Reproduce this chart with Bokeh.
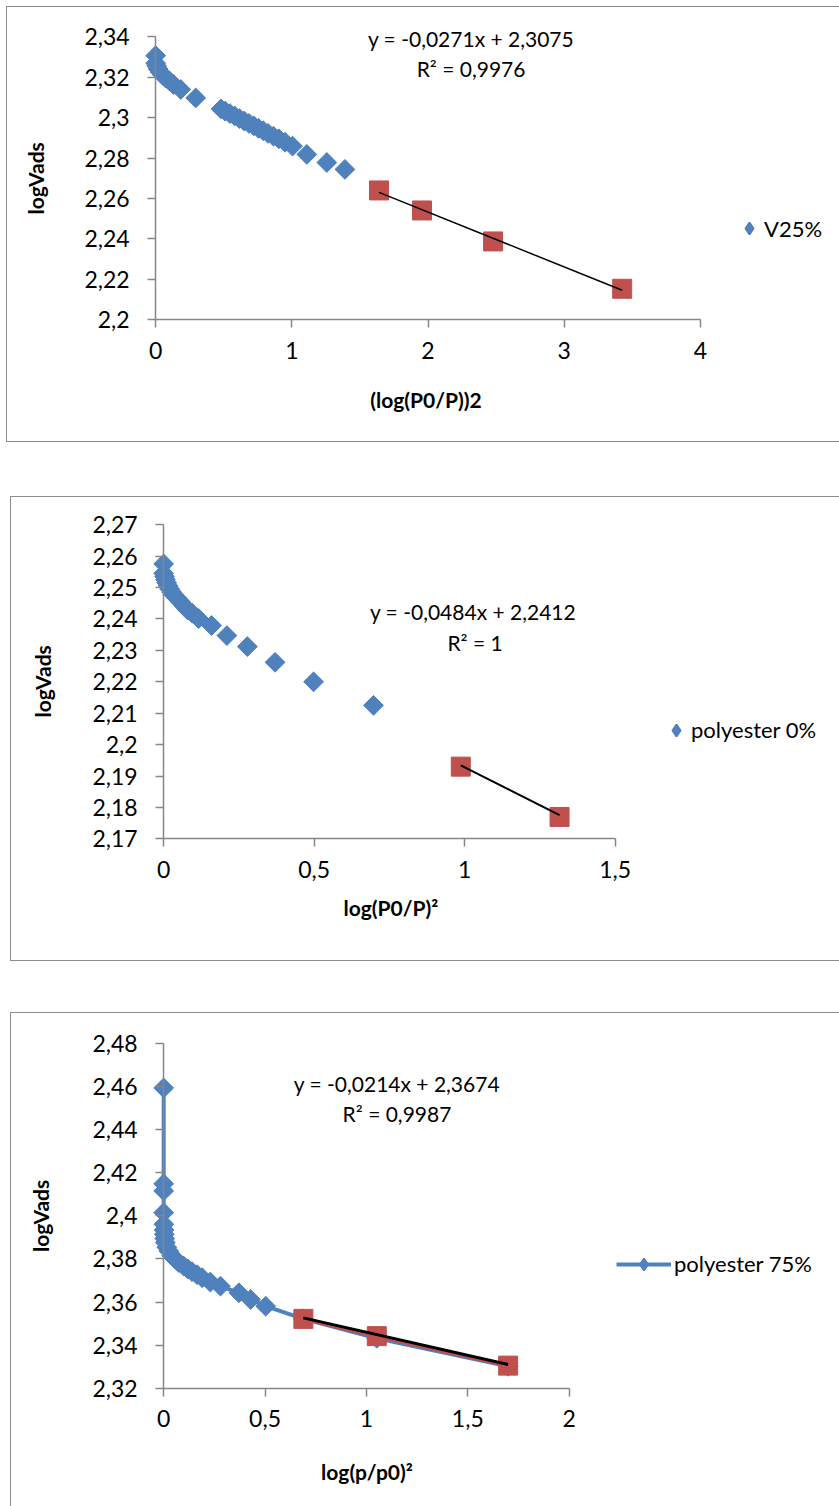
import numpy as np
from bokeh.plotting import figure
from bokeh.models import (Range1d, FixedTicker, CustomJSTickFormatter, Label,
                          Legend, LegendItem)
from bokeh.layouts import column
from bokeh.embed import file_html
from bokeh.resources import INLINE

BLUE = "#4F81BD"
RED = "#C0504D"
AXIS = "#868686"
FONT = "Lato"

# ---------------- Chart 1 data ----------------
c1_blue_x = [0, 0, 0.007, 0.018, 0.033, 0.051, 0.074, 0.103, 0.132, 0.184, 0.294,
             0.48, 0.51, 0.545, 0.58, 0.615, 0.65, 0.685, 0.72, 0.755, 0.79, 0.825,
             0.865, 0.905, 0.95, 1.005, 1.11, 1.257, 1.39]
c1_blue_y = [2.3306, 2.3269, 2.3255, 2.324, 2.3225, 2.321, 2.3195, 2.318, 2.3163, 2.3139, 2.3097,
             2.3043, 2.3032, 2.302, 2.3008, 2.2995, 2.2983, 2.2971, 2.2959, 2.2947, 2.2935, 2.2922,
             2.2908, 2.2895, 2.2878, 2.2859, 2.2818, 2.2778, 2.2744]
c1_red_x = [1.64, 1.956, 2.478, 3.426]
c1_red_y = [2.2640, 2.2541, 2.2388, 2.2154]
c1_fit = [-0.0271, 2.3075]
c1_eq = ["y = -0,0271x + 2,3075", "R\u00b2 = 0,9976"]
c1_series = "V25%"
c1_xlabel = "(log(P0/P))2"
c1_ylabel = "logVads"
c1_xticks = [0, 1, 2, 3, 4]
c1_yticks = [2.2, 2.22, 2.24, 2.26, 2.28, 2.3, 2.32, 2.34]

# ---------------- Chart 2 data ----------------
c2_blue_x = [0, 0, 0.003, 0.006, 0.01, 0.015, 0.02, 0.027, 0.035, 0.045, 0.055, 0.067,
             0.079, 0.095, 0.116, 0.159, 0.21, 0.278, 0.37, 0.498, 0.697]
c2_blue_y = [2.2575, 2.2545, 2.2535, 2.2525, 2.2515, 2.2505, 2.2495, 2.2485, 2.2475, 2.2465,
             2.2455, 2.2442, 2.2429, 2.2418, 2.2401, 2.2379, 2.2347, 2.2312, 2.2262, 2.2200, 2.2125]
c2_red_x = [0.987, 1.315]
c2_red_y = [2.1930, 2.1770]
c2_fit = [-0.0484, 2.2412]
c2_eq = ["y = -0,0484x + 2,2412", "R\u00b2 = 1"]
c2_series = "polyester 0%"
c2_xlabel = "log(P0/P)\u00b2"
c2_ylabel = "logVads"
c2_xticks = [0, 0.5, 1, 1.5]
c2_yticks = [2.17, 2.18, 2.19, 2.2, 2.21, 2.22, 2.23, 2.24, 2.25, 2.26, 2.27]

# ---------------- Chart 3 data ----------------
c3_blue_x = [0, 0, 0, 0, 0.001, 0.002, 0.003, 0.005, 0.008, 0.015, 0.025, 0.04, 0.058,
             0.075, 0.099, 0.12, 0.14, 0.165, 0.19, 0.23, 0.28, 0.371, 0.429, 0.503,
             0.689, 1.051, 1.699]
c3_blue_y = [2.4594, 2.4149, 2.4116, 2.4015, 2.3961, 2.3935, 2.3915, 2.3895, 2.3876, 2.3855,
             2.3837, 2.3815, 2.3799, 2.3783, 2.3767, 2.3753, 2.3741, 2.3727, 2.3713, 2.3693,
             2.3674, 2.3643, 2.3612, 2.3581, 2.3522, 2.3432, 2.3302]
c3_red_x = [0.689, 1.051, 1.699]
c3_red_y = [2.3522, 2.3442, 2.3305]
c3_fit = [-0.0214, 2.3674]
c3_eq = ["y = -0,0214x + 2,3674", "R\u00b2 = 0,9987"]
c3_series = "polyester 75%"
c3_xlabel = "log(p/p0)\u00b2"
c3_ylabel = "logVads"
c3_xticks = [0, 0.5, 1, 1.5, 2]
c3_yticks = [2.32, 2.34, 2.36, 2.38, 2.4, 2.42, 2.44, 2.46, 2.48]

FMT = CustomJSTickFormatter(code="""
let s = tick.toFixed(2);
s = s.replace(/0+$/, '').replace(/\\.$/, '');
return s.replace('.', ',');
""")


def make_chart(cfg):
    # layout: canvas at page pixel (ox, oy) of size cw x ch; the axes' origin
    # (xr[0], yr[0]) sits at page pixel (ax0, ay0); ppx/ppy are pixels per unit
    ox, oy, cw, ch = cfg["canvas"]
    ax0, ay0 = cfg["origin"]
    ppx = cfg["aw"] / (cfg["xr"][1] - cfg["xr"][0])
    ppy = cfg["ah"] / (cfg["yr"][1] - cfg["yr"][0])
    x_lo = cfg["xr"][0] - (ax0 - ox) / ppx
    x_hi = cfg["xr"][0] + (ox + cw - ax0) / ppx
    y_lo = cfg["yr"][0] - (oy + ch - ay0) / ppy
    y_hi = cfg["yr"][0] + (ay0 - oy) / ppy

    def X(px):
        return cfg["xr"][0] + (px - ax0) / ppx

    def Y(py):
        return cfg["yr"][0] + (ay0 - py) / ppy

    p = figure(output_backend="svg", toolbar_location=None, title=None,
               x_range=Range1d(x_lo, x_hi), y_range=Range1d(y_lo, y_hi),
               frame_width=cw, frame_height=ch, min_border=0,
               min_border_left=0, min_border_right=0,
               min_border_top=0, min_border_bottom=0,
               background_fill_color="white", border_fill_color="white")
    p.outline_line_color = None
    p.xgrid.visible = False
    p.ygrid.visible = False
    for ax in (p.xaxis[0], p.yaxis[0]):
        ax.axis_line_color = AXIS
        ax.axis_line_width = 1.5
        ax.major_tick_line_color = AXIS
        ax.major_tick_line_width = 1.5
        ax.major_tick_out = 8
        ax.major_tick_in = 0
        ax.minor_tick_line_color = None
        ax.major_label_text_font = FONT
        ax.major_label_text_font_size = "23px"
        ax.major_label_text_color = "black"
        ax.formatter = FMT
    p.xaxis[0].fixed_location = cfg["yr"][0]
    p.yaxis[0].fixed_location = cfg["xr"][0]
    p.xaxis[0].bounds = tuple(cfg["xr"])
    p.yaxis[0].bounds = tuple(cfg["yr"])
    p.xaxis[0].ticker = FixedTicker(ticks=cfg["xticks"])
    p.yaxis[0].ticker = FixedTicker(ticks=cfg["yticks"])
    p.xaxis[0].major_label_standoff = 14
    p.yaxis[0].major_label_standoff = 18

    # axis titles
    tx_, ty_ = cfg["xt_pos"]
    p.add_layout(Label(x=X(tx_), y=Y(ty_), text=cfg["xlabel"], text_align="center",
                       text_baseline="middle", text_font=FONT, text_font_size="21px",
                       text_font_style="bold", text_color="black"))
    tx_, ty_ = cfg["yt_pos"]
    p.add_layout(Label(x=X(tx_), y=Y(ty_), text=cfg["ylabel"], text_align="center",
                       text_baseline="middle", angle=np.pi / 2, text_font=FONT,
                       text_font_size="21px", text_font_style="bold", text_color="black"))

    leg_rends = []
    if cfg["line"]:
        leg_rends.append(p.line(cfg["bx"], cfg["by"], line_color=BLUE, line_width=4))
    p.scatter(cfg["bx"], cfg["by"], marker="square", angle=np.pi / 4,
              size=14, fill_color=BLUE, line_color=BLUE)
    if cfg["line"]:
        p.line(cfg["rx"], cfg["ry"], line_color=RED, line_width=4)
    p.scatter(cfg["rx"], cfg["ry"], marker="square", size=19,
              fill_color=RED, line_color=RED)
    # trendline over the red points, from the fitted equation
    tx = np.array([min(cfg["rx"]), max(cfg["rx"])])
    ty = cfg["fit"][0] * tx + cfg["fit"][1]
    p.line(tx, ty, line_color="black", line_width=cfg["tw"])

    for txt, (px, py) in zip(cfg["eq"], cfg["eq_pos"]):
        p.add_layout(Label(x=X(px), y=Y(py), text=txt, text_align="center",
                           text_baseline="middle", text_font=FONT,
                           text_font_size="21px", text_color="black"))

    # legend key: a diamond symbol (legend keys are not rotated); hidden in the plot
    key = p.scatter(x=cfg["bx"][:1], y=cfg["by"][:1], marker="diamond", size=12,
                    fill_color=BLUE, line_color=BLUE, line_width=2)
    key.visible = False
    leg_rends.append(key)
    lx, lbottom = cfg["leg_box"]
    leg = Legend(items=[LegendItem(label=cfg["series"], renderers=leg_rends)],
                 location=(lx - ox, oy + ch - lbottom), glyph_width=cfg["gw"],
                 glyph_height=30, label_standoff=cfg["lstand"], padding=0, margin=0,
                 spacing=0, border_line_color=None, background_fill_alpha=0,
                 label_text_font=FONT, label_text_font_size="22px",
                 label_text_color="black")
    p.add_layout(leg)
    return p


p1 = make_chart(dict(canvas=(7, 7, 832, 434), origin=(155, 318), xr=(0, 4), yr=(2.2, 2.34),
                     aw=544, ah=282, xticks=c1_xticks, yticks=c1_yticks,
                     xlabel=c1_xlabel, ylabel=c1_ylabel, xt_pos=(425, 397), yt_pos=(35, 177),
                     line=False, bx=c1_blue_x, by=c1_blue_y,
                     rx=c1_red_x, ry=c1_red_y, fit=c1_fit, tw=1.5,
                     eq=c1_eq, eq_pos=[(470, 38), (470, 68)],
                     series=c1_series, leg_box=(734, 241), gw=30, lstand=-3))
p2 = make_chart(dict(canvas=(11, 497, 828, 463), origin=(163, 837), xr=(0, 1.5), yr=(2.17, 2.27),
                     aw=451, ah=313, xticks=c2_xticks, yticks=c2_yticks,
                     xlabel=c2_xlabel, ylabel=c2_ylabel, xt_pos=(390, 905), yt_pos=(42, 680),
                     line=False, bx=c2_blue_x, by=c2_blue_y,
                     rx=c2_red_x, ry=c2_red_y, fit=c2_fit, tw=2,
                     eq=c2_eq, eq_pos=[(472, 611), (474, 641)],
                     series=c2_series, leg_box=(661, 742.7), gw=30, lstand=-3))
p3 = make_chart(dict(canvas=(11, 1013, 828, 493), origin=(163, 1387), xr=(0, 2), yr=(2.32, 2.48),
                     aw=405, ah=344, xticks=c3_xticks, yticks=c3_yticks,
                     xlabel=c3_xlabel, ylabel=c3_ylabel, xt_pos=(366, 1470), yt_pos=(40, 1215),
                     line=True, bx=c3_blue_x, by=c3_blue_y,
                     rx=c3_red_x, ry=c3_red_y, fit=c3_fit, tw=3,
                     eq=c3_eq, eq_pos=[(396, 1083), (396, 1113)],
                     series=c3_series, leg_box=(616, 1277.7), gw=55, lstand=3))

B = "1px solid #8c8c8c"
p1.styles = {"border-top": B, "border-left": B, "border-bottom": B}
p2.styles = {"border-top": B, "border-left": B, "border-bottom": B}
p3.styles = {"border-top": B, "border-left": B}
p1.margin = (6, 0, 0, 6)
p2.margin = (54, 0, 0, 10)
p3.margin = (51, 0, 0, 10)

layout = column(p1, p2, p3, spacing=0)
open("out.html", "w").write(file_html(layout, INLINE))
